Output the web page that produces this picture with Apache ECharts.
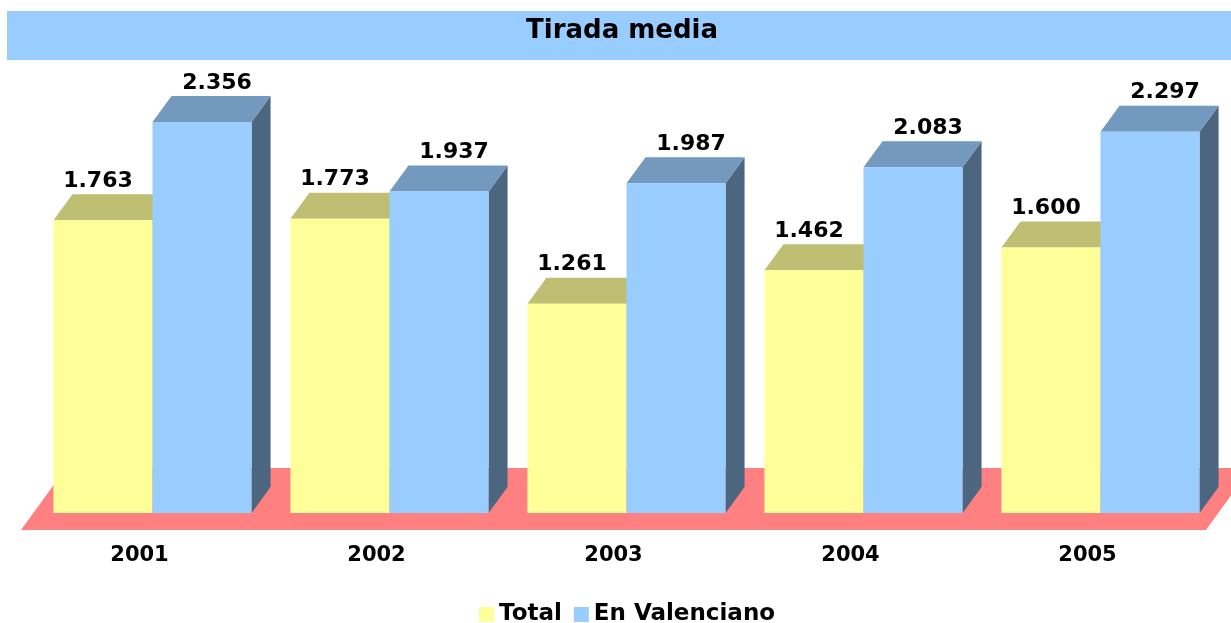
<!DOCTYPE html>
<html>
<head>
<meta charset="utf-8">
<title>Tirada media</title>
<script src="https://cdn.jsdelivr.net/npm/echarts@6/dist/echarts.min.js"></script>
<style>
  html, body { margin: 0; padding: 0; background: #fff; }
  #chart { width: 1231px; height: 623px; }
</style>
</head>
<body>
<div id="chart"></div>
<script>
const years = ['2001', '2002', '2003', '2004', '2005'];
const total = [1763, 1773, 1261, 1462, 1600];
const valenciano = [2356, 1937, 1987, 2083, 2297];

const FONT = 'DejaVu Sans';
// depth of the pseudo 3d bars (px)
const DX = 19, DY = 26;

const fmt = v => (v / 1000).toFixed(3);

const bar3d = (slot, colors, labelDx) => (params, api) => {
  const cat = api.value(0);
  const val = api.value(1);
  const base = api.coord([cat, 0]);
  const tip = api.coord([cat, val]);
  const w = api.size([1, 0])[0] * 0.418;
  const x0 = base[0] - w + slot * w;
  const x1 = x0 + w;
  const yb = base[1], yt = tip[1];
  return {
    type: 'group',
    children: [
      {
        type: 'polygon',
        shape: { points: [[x1, yt], [x1 + DX, yt - DY], [x1 + DX, yb - DY], [x1, yb]] },
        style: { fill: colors.side }
      },
      {
        type: 'polygon',
        shape: { points: [[x0, yt], [x1, yt], [x1 + DX, yt - DY], [x0 + DX, yt - DY]] },
        style: { fill: colors.top }
      },
      {
        type: 'rect',
        shape: { x: x0, y: yt, width: w, height: yb - yt },
        style: { fill: colors.front }
      },
      {
        type: 'text',
        x: (x0 + x1) / 2 + labelDx,
        y: yt - 39,
        style: {
          text: fmt(val),
          fill: '#000',
          font: 'bold 22px "' + FONT + '"',
          align: 'center',
          verticalAlign: 'middle'
        }
      }
    ]
  };
};

const floorItem = (params, api) => {
  if (params.dataIndex !== 0) return;
  const cs = params.coordSys;
  const l = cs.x, r = cs.x + cs.width, b = cs.y + cs.height;
  return {
    type: 'polygon',
    shape: {
      points: [[l - 13, b + 17], [r - 13, b + 17], [r + 32, b - 45], [l + 32, b - 45]]
    },
    style: { fill: '#FF8080' }
  };
};

const chart = echarts.init(document.getElementById('chart'));
chart.setOption({
  animation: false,
  backgroundColor: '#fff',
  color: ['#FFFF99', '#99CCFF'],
  graphic: [{
    type: 'rect',
    shape: { x: 7, y: 11, width: 1230, height: 49 },
    style: { fill: '#99CCFF' },
    z: -1
  }],
  title: {
    text: 'Tirada media',
    left: 526,
    top: 18,
    padding: 0,
    textStyle: { fontFamily: FONT, fontWeight: 'bold', fontSize: 26, color: '#000' }
  },
  legend: {
    left: 479,
    top: 603,
    itemWidth: 15,
    itemHeight: 15,
    itemGap: 12,
    padding: 0,
    data: [{ name: 'Total', icon: 'rect' }, { name: 'En Valenciano', icon: 'rect' }],
    textStyle: { fontFamily: FONT, fontWeight: 'bold', fontSize: 23, color: '#000' }
  },
  grid: { left: 34, right: 12, top: 98, bottom: 110 },
  xAxis: {
    type: 'category',
    data: years,
    axisLine: { show: false },
    axisTick: { show: false },
    axisLabel: {
      margin: 32,
      padding: [0, 26, 0, 0],
      color: '#000',
      fontFamily: FONT,
      fontWeight: 'bold',
      fontSize: 21
    }
  },
  yAxis: {
    type: 'value',
    min: 0,
    max: 2500,
    show: false,
    splitLine: { show: false }
  },
  series: [
    {
      type: 'custom',
      name: 'floor',
      z: 1,
      renderItem: floorItem,
      data: [[0, 0]],
      silent: true
    },
    {
      type: 'custom',
      name: 'Total',
      z: 2,
      itemStyle: { color: '#FFFF99' },
      renderItem: bar3d(0, { front: '#FFFF99', top: '#BFBF73', side: '#BFBF73' }, -5),
      encode: { x: 0, y: 1 },
      data: years.map((y, i) => [i, total[i]])
    },
    {
      type: 'custom',
      name: 'En Valenciano',
      z: 2,
      itemStyle: { color: '#99CCFF' },
      renderItem: bar3d(1, { front: '#99CCFF', top: '#7399BF', side: '#4D6680' }, 15),
      encode: { x: 0, y: 1 },
      data: years.map((y, i) => [i, valenciano[i]])
    }
  ]
});
</script>
</body>
</html>
